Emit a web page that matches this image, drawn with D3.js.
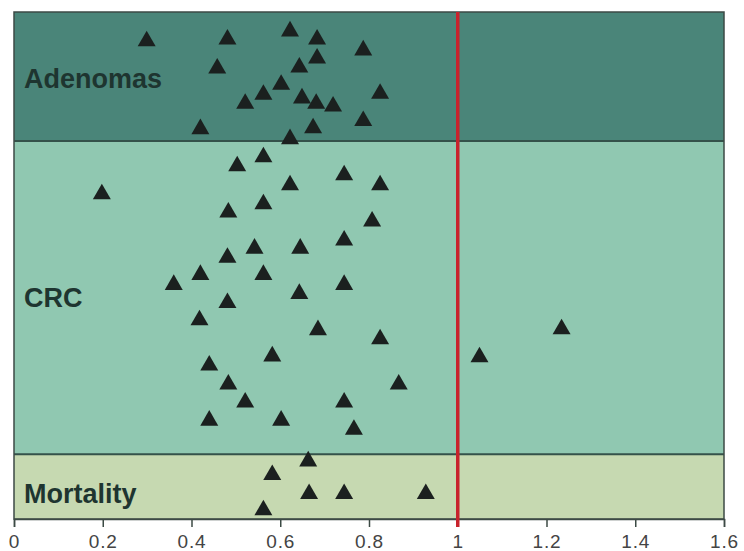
<!DOCTYPE html>
<html>
<head>
<meta charset="utf-8">
<script src="https://cdn.jsdelivr.net/npm/d3@7"></script>
<style>
  html, body { margin: 0; padding: 0; background: #fff; }
  svg { display: block; }
</style>
</head>
<body>
<svg id="chart" width="744" height="551"></svg>
<script>
// ---- data ----
const groups = ["Adenomas", "CRC", "Mortality"];
// band boundaries on the vertical study-position axis (0 = top, 56 = bottom)
const bandStart = [0, 14.25, 48.84];
const bandEnd = [14.25, 48.84, 56];

// relative risk estimates (x) and study position (y)
const adenomaRR = [0.299, 0.481, 0.622, 0.683, 0.787, 0.683, 0.643, 0.458, 0.602, 0.562,
                   0.521, 0.649, 0.681, 0.719, 0.825, 0.420, 0.674, 0.787, 0.622];
const adenomaPos = [3.0, 2.8, 1.9, 2.8, 4.0, 4.9, 5.9, 6.0, 7.8, 8.9,
                    9.9, 9.3, 9.9, 10.2, 8.8, 12.7, 12.6, 11.8, 13.8];

const crcRR = [0.562, 0.503, 0.744, 0.825, 0.622, 0.198, 0.562, 0.483, 0.807, 0.744,
               0.542, 0.645, 0.481, 0.562, 0.420, 0.360, 0.744, 0.643, 0.481, 0.418,
               0.685, 0.825, 1.234, 0.582, 1.049, 0.440, 0.483, 0.867, 0.521, 0.744,
               0.440, 0.602, 0.766];
const crcPos = [15.8, 16.8, 17.8, 18.9, 18.9, 19.9, 21.0, 21.9, 22.9, 25.0,
                25.9, 25.9, 26.9, 28.8, 28.8, 29.9, 29.9, 30.9, 31.9, 33.8,
                34.9, 35.9, 34.8, 37.8, 37.9, 38.8, 40.9, 40.9, 42.9, 42.9,
                44.9, 44.9, 45.9];

const mortalityRR = [0.663, 0.582, 0.665, 0.744, 0.928, 0.562];
const mortalityPos = [49.4, 50.9, 53.0, 53.0, 53.0, 54.8];

const tickValues = [0, 0.2, 0.4, 0.6, 0.8, 1, 1.2, 1.4, 1.6];
const tickLabels = ["0", "0.2", "0.4", "0.6", "0.8", "1", "1.2", "1.4", "1.6"];
const referenceRR = 1;

// ---- layout ----
const plotLeft = 14, plotRight = 724, plotTop = 12, plotBottom = 519;
const bandColors = ["#4a8579", "#90c8b1", "#c6d9b1"];
const labelBaselines = [88, 307, 503];

const svg = d3.select("#chart");
const x = d3.scaleLinear().domain([0, 1.6]).range([plotLeft, plotRight]);
const y = d3.scaleLinear().domain([0, 56]).range([plotTop, plotBottom]);

// bands
svg.append("g").selectAll("rect").data(groups).join("rect")
  .attr("x", x(0))
  .attr("y", (d, i) => y(bandStart[i]))
  .attr("width", x(1.6) - x(0))
  .attr("height", (d, i) => y(bandEnd[i]) - y(bandStart[i]))
  .attr("fill", (d, i) => bandColors[i]);

// band separators
svg.append("g").selectAll("line").data(bandStart.slice(1)).join("line")
  .attr("x1", x(0)).attr("x2", x(1.6))
  .attr("y1", d => y(d)).attr("y2", d => y(d))
  .attr("stroke", "#34524a").attr("stroke-width", 2);

// outer frame
svg.append("rect")
  .attr("x", x(0)).attr("y", y(0))
  .attr("width", x(1.6) - x(0)).attr("height", y(56) - y(0))
  .attr("fill", "none").attr("stroke", "#3c4a45").attr("stroke-width", 1.5);

// group labels
svg.append("g").selectAll("text").data(groups).join("text")
  .attr("x", 24)
  .attr("y", (d, i) => labelBaselines[i])
  .attr("font-family", "'Liberation Sans', Arial, Helvetica, sans-serif")
  .attr("font-weight", "bold")
  .attr("font-size", 27)
  .attr("fill", "#1e3530")
  .text(d => d);

// axis
const axis = d3.axisBottom(x)
  .tickValues(tickValues)
  .tickFormat((d, i) => tickLabels[i])
  .tickSize(8)
  .tickPadding(8);
const gx = svg.append("g").attr("transform", `translate(0,${plotBottom})`).call(axis);
gx.select(".domain").attr("stroke", "#3c4a45").attr("stroke-width", 1.5);
gx.selectAll(".tick line").attr("stroke", "#3c4a45").attr("stroke-width", 1.5);
gx.selectAll(".tick text")
  .attr("font-family", "'Liberation Sans', Arial, Helvetica, sans-serif")
  .attr("font-size", 19)
  .attr("letter-spacing", 0.8)
  .attr("fill", "#444");

// reference line
svg.append("line")
  .attr("x1", x(referenceRR)).attr("x2", x(referenceRR))
  .attr("y1", y(0)).attr("y2", plotBottom + 8)
  .attr("stroke", "#c8232c").attr("stroke-width", 3.5);

// points
const points = [];
adenomaRR.forEach((v, i) => points.push({ rr: v, pos: adenomaPos[i] }));
crcRR.forEach((v, i) => points.push({ rr: v, pos: crcPos[i] }));
mortalityRR.forEach((v, i) => points.push({ rr: v, pos: mortalityPos[i] }));

const tri = d3.symbol().type(d3.symbolTriangle).size(140);
svg.append("g").selectAll("path").data(points).join("path")
  .attr("d", tri)
  .attr("transform", d => `translate(${x(d.rr)},${y(d.pos) + 2})`)
  .attr("fill", "#1b201f");
</script>
</body>
</html>
